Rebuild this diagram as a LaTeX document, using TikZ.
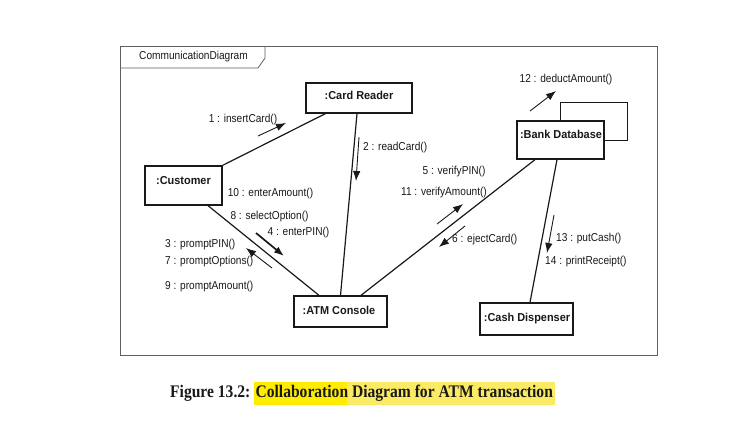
\documentclass[tikz,border=0pt]{standalone}
\usepackage{fontspec}
\setmainfont{Liberation Serif}
\newfontfamily\lblfont[FakeStretch=0.88]{Liberation Sans}
\newfontfamily\objfont[FakeStretch=0.95]{Liberation Sans}
\newfontfamily\capfont[FakeStretch=0.88]{Liberation Serif}
\usetikzlibrary{arrows.meta}
\definecolor{framegray}{RGB}{95,95,95}
\definecolor{hlA}{RGB}{255,236,0}
\definecolor{hlB}{RGB}{250,234,100}
\definecolor{inkk}{RGB}{25,25,25}
\begin{document}
\begin{tikzpicture}[x=1pt,y=-1pt,
  objbox/.style={draw=inkk,line width=1.3pt,fill=white,inner sep=0pt},
  objtxt/.style={anchor=base,inner sep=0pt,font=\objfont\fontsize{11.5}{13}\selectfont\bfseries,text=inkk},
  lbl/.style={anchor=west,inner sep=0pt,font=\lblfont\fontsize{11.5}{13}\selectfont,text=inkk},
  link/.style={draw=inkk,line width=1.2pt},
  msg/.style={draw=inkk,line width=0.9pt,-{Latex[length=10pt,width=7.5pt]}},
]
\useasboundingbox (0,0) rectangle (733,445);
\fill[white] (0,0) rectangle (733,445);
% frame
\draw[framegray,line width=1pt] (120,46) rectangle (657,355);
\draw[framegray,line width=0.8pt] (120,68) -- (258,68) -- (265,58) -- (265,46);
\node[lbl,anchor=center] (title) at (193.5,57) {CommunicationDiagram};

% objects
\node[objbox,minimum width=106pt,minimum height=30pt] (cr) at (359,98) {};
\node[objtxt] (crt) at (359,99) {:Card Reader};
\node[objbox,minimum width=77pt,minimum height=39pt] (cust) at (183.5,185.5) {};
\node[objtxt] (custt) at (183.5,184) {:Customer};
% self loop behind bank
\coordinate (loopA) at (560,121);
\coordinate (loopB) at (604,140);
\draw[inkk,line width=0.9pt] (loopA) -- (560,102) -- (627,102) -- (627,140) -- (loopB);
\node[objbox,minimum width=87pt,minimum height=38pt] (bank) at (560.5,140) {};
\node[objtxt] (bankt) at (561,138) {:Bank Database};
\node[objbox,minimum width=93pt,minimum height=31pt] (atm) at (340.5,311.5) {};
\node[objtxt] (atmt) at (339,314) {:ATM Console};
\node[objbox,minimum width=93pt,minimum height=32pt] (cash) at (526.5,319) {};
\node[objtxt] (casht) at (527,321) {:Cash Dispenser};

% links
\draw[link] (cust.north east) -- ([xshift=20pt]cr.south west);
\draw[link] ([xshift=-2pt]cr.south) -- (atm.north);
\draw[link] ([xshift=24.5pt]cust.south) -- ([xshift=-21.5pt]atm.north);
\draw[link] ([xshift=20.5pt]atm.north) -- ([xshift=-25.5pt]bank.south);
\draw[link] ([xshift=-3.5pt]bank.south) -- ([xshift=3.5pt]cash.north);

% message arrows
\coordinate (m1a) at (258,136); \coordinate (m1b) at (286,123);
\draw[msg] (m1a) -- (m1b);
\coordinate (m2a) at (359,137); \coordinate (m2b) at (356,181);
\draw[msg] (m2a) -- (m2b);
\coordinate (m48a) at (256,233); \coordinate (m48b) at (284,256);
\draw[msg,line width=1.7pt] (m48a) -- (m48b);
\coordinate (m3a) at (272,268); \coordinate (m3b) at (246,248);
\draw[msg] (m3a) -- (m3b);
\coordinate (m5a) at (437,224); \coordinate (m5b) at (463,204);
\draw[msg] (m5a) -- (m5b);
\coordinate (m6a) at (465,226); \coordinate (m6b) at (439,247);
\draw[msg] (m6a) -- (m6b);
\coordinate (m12a) at (530,111); \coordinate (m12b) at (556,91);
\draw[msg] (m12a) -- (m12b);
\coordinate (m13a) at (554,215); \coordinate (m13b) at (547,253);
\draw[msg] (m13a) -- (m13b);

% labels
\node[lbl,anchor=center] (l1) at (243,120) {1 : insertCard()};
\node[lbl] (l2) at (363,148) {2 : readCard()};
\node[lbl,anchor=center] (l5) at (454,172) {5 : verifyPIN()};
\node[lbl,anchor=center] (l11) at (444,193) {11 : verifyAmount()};
\node[lbl,anchor=center] (l12) at (566,80) {12 : deductAmount()};
\node[lbl,anchor=center] (l10) at (270.5,194) {10 : enterAmount()};
\node[lbl,anchor=center] (l8) at (269.5,217) {8 : selectOption()};
\node[lbl,anchor=center] (l4) at (298.5,233) {4 : enterPIN()};
\node[lbl] (l3) at (165,245) {3 : promptPIN()};
\node[lbl] (l7) at (165,262) {7 : promptOptions()};
\node[lbl] (l9) at (165,287) {9 : promptAmount()};
\node[lbl] (l6) at (452,240) {6 : ejectCard()};
\node[lbl] (l13) at (556,239) {13 : putCash()};
\node[lbl] (l14) at (545,262) {14 : printReceipt()};

% caption
\fill[hlA] (254,382) rectangle (347,405);
\fill[hlB] (347,382) rectangle (555,405);
\node[anchor=west,inner sep=0pt,font=\capfont\fontsize{17.7}{20}\selectfont\bfseries,text=inkk] (cap) at (170,393.5) {Figure 13.2: Collaboration Diagram for ATM transaction};
\end{tikzpicture}
\end{document}
